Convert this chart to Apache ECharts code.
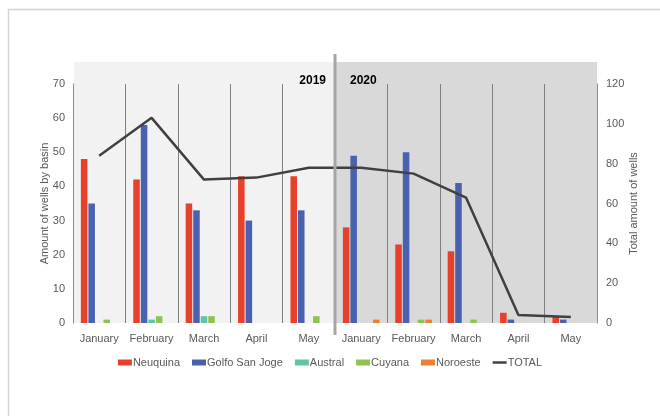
<!DOCTYPE html>
<html lang="en">
<head>
    <meta charset="UTF-8">
    <title>Wells by basin</title>
    <style>
        body{ margin:0; background:#fff; }
        .container{ width:660px; height:416px; }
    </style>
    <script src="https://cdn.jsdelivr.net/npm/echarts@6/dist/echarts.min.js"></script>
</head>
<body>
    <div class="container"></div>
    <script>
        // months of 2019 then 2020
        const months = ['January','February','March','April','May','January','February','March','April','May'];
        const years = ['2019','2020'];

        const neuquina = [48, 42, 35, 43, 43, 28, 23, 21, 3, 2];
        const golfo    = [35, 58, 33, 30, 33, 49, 50, 41, 1, 1];
        const austral  = [0, 1, 2, 0, 0, 0, 0, 0, 0, 0];
        const cuyana   = [1, 2, 2, 0, 2, 0, 1, 1, 0, 0];
        const noroeste = [0, 0, 0, 0, 0, 1, 1, 0, 0, 0];
        const total    = [84, 103, 72, 73, 78, 78, 75, 63, 4, 3];

        const font = 'Liberation Sans, Noto Sans, sans-serif';
        const txt = '#595959';

        function bar(name, data, color){
            return {
                name: name, type: 'bar', data: data,
                barGap: '15%', barCategoryGap: '30%',
                itemStyle: { color: color }
            };
        }

        const chart = echarts.init(document.getElementsByClassName('container')[0]);
        chart.setOption({
            animation: false,
            textStyle: { fontFamily: font },
            grid: { left: 73, right: 63, top: 84, bottom: 93 },
            legend: {
                top: 352, left: 'center',
                itemWidth: 14, itemHeight: 6, itemGap: 12,
                textStyle: { fontSize: 11, color: txt, padding: [0, 0, 0, -4] },
                data: [
                    { name: 'Neuquina', icon: 'rect' },
                    { name: 'Golfo San Joge', icon: 'rect' },
                    { name: 'Austral', icon: 'rect' },
                    { name: 'Cuyana', icon: 'rect' },
                    { name: 'Noroeste', icon: 'rect' },
                    { name: 'TOTAL', icon: 'path://M0,0h14v2.5h-14z' }
                ]
            },
            xAxis: {
                type: 'category', data: months,
                axisTick: { show: false },
                axisLine: { show: false },
                axisLabel: { color: txt, fontSize: 11, margin: 10, interval: 0 },
                splitLine: { show: true, interval: 0, lineStyle: { color: '#808080', width: 1 } }
            },
            yAxis: [
                {
                    type: 'value', min: 0, max: 70, interval: 10,
                    name: 'Amount of wells by basin', nameLocation: 'middle', nameGap: 23,
                    nameMoveOverlap: false,
                    nameTextStyle: { color: txt, fontSize: 11 },
                    axisLine: { show: true, lineStyle: { color: '#8c8c8c' } },
                    axisLabel: { color: txt, fontSize: 11, margin: 8 },
                    splitLine: { show: false }
                },
                {
                    type: 'value', min: 0, max: 120, interval: 20,
                    name: 'Total amount of wells', nameLocation: 'middle', nameGap: 31,
                    nameRotate: 90, nameMoveOverlap: false,
                    nameTextStyle: { color: txt, fontSize: 11 },
                    axisLine: { show: true, lineStyle: { color: '#8c8c8c' } },
                    axisLabel: { color: txt, fontSize: 11, margin: 9 },
                    splitLine: { show: false }
                }
            ],
            series: [
                bar('Neuquina', neuquina, '#e8412b'),
                bar('Golfo San Joge', golfo, '#4a62ad'),
                bar('Austral', austral, '#62c3a9'),
                bar('Cuyana', cuyana, '#8fc351'),
                bar('Noroeste', noroeste, '#f07f30'),
                {
                    name: 'TOTAL', type: 'line', yAxisIndex: 1, data: total,
                    symbol: 'none',
                    lineStyle: { color: '#404040', width: 2.5 },
                    itemStyle: { color: '#404040' },
                    z: 5
                }
            ]
        });

        // background bands and year divider placed from the axis scale
        const x0 = chart.convertToPixel({ xAxisIndex: 0 }, 0);
        const x1 = chart.convertToPixel({ xAxisIndex: 0 }, 1);
        const band = x1 - x0;
        const left = x0 - band / 2;
        const mid = chart.convertToPixel({ xAxisIndex: 0 }, 4) + band / 2;
        const right = chart.convertToPixel({ xAxisIndex: 0 }, 9) + band / 2;
        const yTop = chart.convertToPixel({ yAxisIndex: 0 }, 70);
        const yBot = chart.convertToPixel({ yAxisIndex: 0 }, 0);

        chart.setOption({
            graphic: [
                { type: 'rect', z: -10, silent: true,
                  shape: { x: 8.5, y: 9.5, width: 700, height: 500 },
                  style: { fill: '#fff', stroke: '#d4d4d4', lineWidth: 1.5 } },
                { type: 'rect', z: -5, silent: true,
                  shape: { x: left + 1, y: yTop - 22, width: mid - left - 1, height: yBot - yTop + 22 },
                  style: { fill: '#f2f2f2' } },
                { type: 'rect', z: -5, silent: true,
                  shape: { x: mid, y: yTop - 22, width: right - mid, height: yBot - yTop + 22 },
                  style: { fill: '#d9d9d9' } },
                { type: 'line', z: 20, silent: true,
                  shape: { x1: mid, y1: yTop - 30, x2: mid, y2: yBot + 12 },
                  style: { stroke: '#a6a6a6', lineWidth: 3 } },
                { type: 'text', z: 20, silent: true,
                  style: { text: years[0], x: mid - 9, y: yTop - 3, align: 'right', verticalAlign: 'middle',
                           font: 'bold 12px ' + font, fill: '#000' } },
                { type: 'text', z: 20, silent: true,
                  style: { text: years[1], x: mid + 15, y: yTop - 3, align: 'left', verticalAlign: 'middle',
                           font: 'bold 12px ' + font, fill: '#000' } }
            ]
        });
    </script>
</body>
</html>
